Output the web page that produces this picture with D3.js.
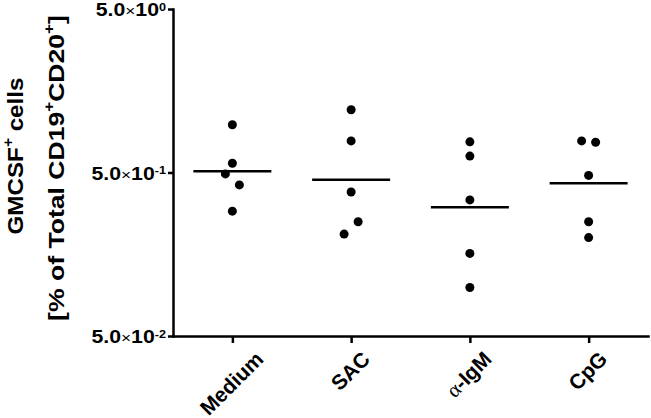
<!DOCTYPE html>
<html><head><meta charset="utf-8">
<script src="https://cdn.jsdelivr.net/npm/d3@7"></script>
<style>body{margin:0;background:#fff}svg{display:block}</style>
</head><body><svg id="c" width="651" height="418"></svg>
<script>
// ---- data ----
const categories = ["Medium", "SAC", "α-IgM", "CpG"];
const medium = [0.98, 0.57, 0.49, 0.42, 0.29];
const sac = [1.21, 0.78, 0.38, 0.25, 0.21];
const aIgM = [0.77, 0.63, 0.34, 0.16, 0.099];
const cpg = [0.78, 0.765, 0.48, 0.25, 0.20];
const seriesValues = [medium, sac, aIgM, cpg];
const centerLines = [0.508, 0.452, 0.306, 0.430];
const jitterSlots = [[0, 0, -1, 1, 0], [0, 0, 0, 1, -1], [0, 0, 0, 0, 0], [-1, 1, 0, 0, 0]];
const yTickValues = [0.05, 0.5, 5];
const yTickMantissa = ["5.0", "5.0", "5.0"];
const yTickExponents = ["-2", "-1", "0"];

const FONT = "'Liberation Sans', Arial, sans-serif";
const svg = d3.select("#c");
const x = d3.scalePoint().domain(categories).range([173, 648]).padding(0.5);
const y = d3.scaleLog().domain([0.05, 5]).range([336, 9]);

// axes
const yAx = svg.append("g").attr("transform", "translate(173,0)")
  .call(d3.axisLeft(y).tickValues(yTickValues).tickSize(5).tickSizeOuter(0).tickFormat(""));
const xAx = svg.append("g").attr("transform", "translate(0,336)")
  .call(d3.axisBottom(x).tickSize(7).tickSizeOuter(0).tickFormat(""));
[yAx, xAx].forEach(g => {
  g.selectAll("path,line").attr("stroke", "#000").attr("stroke-width", 2.5);
  g.select(".domain").attr("stroke-linecap", "square");
});

// y tick labels
yTickValues.forEach((v, i) => {
  const t = svg.append("text").attr("transform", `translate(166,${y(v) + 7}) scale(1.15,1)`)
    .attr("text-anchor", "end").attr("font-family", FONT).attr("font-weight", "bold")
    .attr("font-size", 18.5).attr("fill", "#000");
  t.append("tspan").text(yTickMantissa[i]);
  t.append("tspan").attr("font-weight", "normal").attr("font-size", 15).text("×");
  t.append("tspan").text("10");
  t.append("tspan").attr("font-size", 11).attr("dy", -5.5).text(yTickExponents[i]);
});

// x tick labels (rotated -45, bbox centred on tick, top aligned)
categories.forEach(c => {
  const g = svg.append("g");
  const t = g.append("text").attr("transform", "rotate(-45)").attr("text-anchor", "middle")
    .attr("font-family", FONT).attr("font-weight", "bold").attr("font-size", 21).attr("fill", "#000");
  if (c.startsWith("α")) {
    t.append("tspan").attr("font-family", "'Liberation Serif', serif").attr("font-weight", "normal").text("α");
    t.append("tspan").text(c.slice(1));
  } else t.text(c);
  const bb = g.node().getBBox();
  g.attr("transform", `translate(${x(c) - (bb.x + bb.width / 2) - 1},${347 - bb.y})`);
});

// y title (two lines, rotated)
function titleLine(cx, cy, size, parts, target) {
  const t = svg.append("text").attr("text-anchor", "middle").attr("font-family", FONT)
    .attr("font-weight", "bold").attr("font-size", size).attr("fill", "#000");
  parts.forEach(p => {
    const s = t.append("tspan").text(p[0]);
    if (p[1]) s.attr("font-size", size * 0.64).attr("dy", -size * 0.44);
    else s.attr("dy", p[2] ? size * 0.44 : 0);
  });
  const len = t.node().getComputedTextLength();
  t.attr("transform", `translate(${cx},${cy}) rotate(-90) scale(${target / len},1)`);
}
titleLine(23, 156, 22, [["GMCSF"], ["+", true], [" cells", false, true]], 157);
titleLine(64, 168, 23, [["[% of Total CD19"], ["+", true], ["CD20", false, true], ["+", true], ["]", false, true]], 306);

// centre lines
svg.append("g").selectAll("line").data(categories).join("line")
  .attr("x1", d => x(d) - 39).attr("x2", d => x(d) + 39)
  .attr("y1", (d, i) => y(centerLines[i])).attr("y2", (d, i) => y(centerLines[i]))
  .attr("stroke", "#000").attr("stroke-width", 2.5);

// points
const JIT = 7;
categories.forEach((c, i) => {
  svg.append("g").selectAll("circle").data(seriesValues[i]).join("circle")
    .attr("cx", (d, j) => x(c) + jitterSlots[i][j] * JIT)
    .attr("cy", d => y(d)).attr("r", 4.5).attr("fill", "#000");
});
</script></body></html>
